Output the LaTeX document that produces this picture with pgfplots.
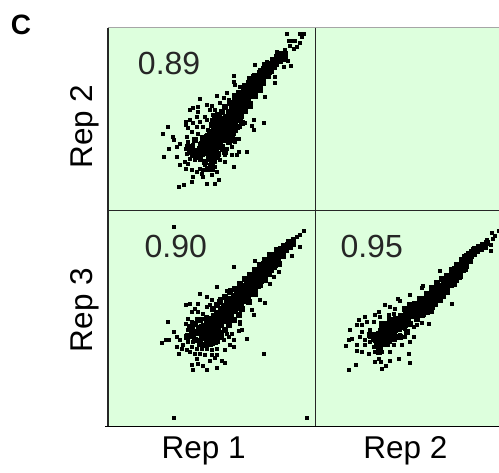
\documentclass[border=0pt]{standalone}
\usepackage{pgfplots}
\pgfplotsset{compat=1.18}
\usepackage{fontspec}
\setmainfont{Liberation Sans}
\definecolor{panelgreen}{RGB}{221,255,221}
\pgfplotsset{panel/.style={
  scale only axis, y dir=reverse, xtick=\empty, ytick=\empty,
  axis background/.style={fill=panelgreen},
  axis line style={draw=none},
  label style={font=\fontsize{31.5}{31.5}\selectfont},
  clip=true},
  dot/.style={only marks, mark=square*, mark size=1.5pt, black, mark options={draw=none,fill=black}},
  mid/.style={only marks, mark=square*, mark size=2.5pt, black, mark options={draw=none,fill=black}},
  core/.style={only marks, mark=square*, mark size=3.6pt, black, mark options={draw=none,fill=black}}
}
\tikzset{val/.style={font=\fontsize{32}{32}\selectfont, text=black!85}}
\begin{document}
\begin{tikzpicture}[x=1pt,y=1pt]
\path[use as bounding box] (0,0) rectangle (499,-473);
\node[font=\bfseries\fontsize{28}{28}\selectfont, anchor=center] at (21,-25) {C};
% top-right empty
\begin{axis}[panel, at={(315.7pt,-28pt)}, anchor=north west, width=183.3pt, height=182.7pt, xmin=0,xmax=1,ymin=0,ymax=1]
\addplot[draw=none] coordinates {(0,0)};
\end{axis}
% Rep 1 vs Rep 2
\begin{axis}[panel, at={(108pt,-28pt)}, anchor=north west, width=207.7pt, height=182.7pt,
  xmin=25,xmax=647,ymin=25,ymax=572,
  ylabel={Rep 2}, ylabel style={at={(axis description cs:-0.112,0.46)},anchor=center}]
\addplot[core] coordinates {
(552,105)(545,112)(535,120)(525,130)(515,135)(505,145)(495,150)(510,150)(490,165)(480,170)(500,165)(475,185)(465,180)(455,190)(485,185)(450,205)(465,205)(440,215)(475,205)(430,225)(450,225)(420,235)(440,240)(460,225)(410,250)(425,250)(445,255)(400,265)(415,265)(430,270)(390,280)(405,280)(420,285)(380,295)(395,295)(410,295)(370,305)(385,310)(400,310)(360,320)(375,325)(390,325)(350,330)(365,340)(380,340)(345,345)(360,355)(375,355)(340,360)(355,370)(330,375)(335,390)(345,385)(325,395)(365,300)(350,315)(335,350)(320,365)(315,390)(310,375)
};
\addplot[mid] coordinates {
(345,295)(355,285)(365,275)(375,260)(390,250)(405,235)(415,220)(430,205)(445,190)(460,170)(480,160)(495,135)(530,112)(540,105)(420,300)(425,310)(410,320)(405,330)(395,345)(390,355)(335,315)(330,335)(320,350)(310,365)(325,365)(300,385)(315,380)(295,395)(345,410)(330,415)(315,425)(335,430)(325,445)(335,445)(365,380)(375,395)(385,365)(400,360)(285,360)(275,390)(265,380)(270,395)(285,405)(300,410)(355,400)(345,320)(355,305)(470,195)(460,215)(440,230)(415,250)(470,170)(485,175)(505,155)(520,140)
};
\addplot[dot] coordinates {
(560,43)(600,43)(610,43)(605,52)(565,62)(575,62)(585,62)(600,70)(590,80)(580,88)(570,78)(555,90)(545,100)(535,100)(530,95)(572,138)(563,122)(465,135)(400,167)(402,185)(405,195)(380,218)(350,228)(300,237)(370,235)(360,250)(335,258)(320,255)(295,262)(280,265)(270,270)(295,275)(290,290)(330,270)(340,285)(315,290)(258,305)(258,315)(203,322)(188,342)(220,350)(222,360)(240,370)(232,380)(207,385)(192,410)(232,410)(240,435)(255,425)(265,430)(258,445)(275,450)(290,455)(305,460)(280,470)(310,470)(335,465)(358,480)(345,490)(320,490)(275,485)(252,494)(237,500)(490,310)(460,300)(455,318)(462,328)(440,395)(415,395)(400,440)(495,230)(525,190)(525,170)
(270,300)(280,310)(265,325)(290,320)(300,305)(320,300)(335,300)(310,320)(275,335)(295,340)(260,350)(285,355)(305,350)(320,345)(335,340)(265,365)(280,375)(300,370)(315,365)(330,365)(258,385)(270,390)(290,390)(305,385)(320,385)(350,395)(365,390)(380,385)(395,380)(405,365)(415,355)(260,400)(275,405)(290,405)(310,405)(325,410)(340,405)(355,410)(375,405)(395,405)(410,405)(270,415)(285,420)(300,420)(315,425)(330,420)(345,425)(360,420)(375,425)(315,435)(330,435)(345,440)(325,450)(340,450)(310,450)(300,445)(350,455)(395,350)(435,310)(420,320)(400,340)(350,305)(340,320)(325,330)(360,290)(345,270)(375,265)(385,240)(400,225)(420,200)(430,195)(445,175)(460,165)(480,150)(500,125)(515,118)(540,118)(555,120)(550,140)
};
\node[val] at (axis cs:208,130) {0.89};
\end{axis}
% Rep 1 vs Rep 3
\begin{axis}[panel, at={(108pt,-210.7pt)}, anchor=north west, width=207.7pt, height=216pt,
  xmin=25,xmax=647,ymin=17,ymax=665,
  ylabel={Rep 3}, ylabel style={at={(axis description cs:-0.112,0.54)},anchor=center},
  xlabel={Rep 1}, xlabel style={at={(axis description cs:0.46,-0.112)},anchor=center}]
\addplot[core] coordinates {
(575,112)(565,122)(555,130)(545,135)(535,145)(545,150)(525,152)(515,160)(530,165)(505,170)(520,175)(495,180)(510,190)(485,192)(500,200)(475,205)(490,215)(465,215)(480,225)(455,225)(470,240)(445,235)(460,250)(435,245)(450,262)(425,255)(440,275)(415,265)(430,285)(405,275)(420,295)(395,285)(410,305)(385,295)(400,315)(375,305)(390,325)(365,315)(380,335)(355,325)(370,345)(345,335)(360,355)(335,345)(350,365)(325,355)(340,375)(330,385)(320,375)(310,395)(325,400)(345,395)(360,385)
};
\addplot[mid] coordinates {
(340,310)(350,300)(360,290)(375,275)(390,260)(405,250)(420,235)(435,222)(450,210)(465,195)(480,180)(495,165)(510,150)(530,135)(550,122)(565,110)(535,175)(520,185)(505,205)(495,225)(480,240)(465,265)(445,290)(425,310)(415,330)(400,345)(385,360)(375,375)(360,395)(345,410)(330,415)(315,420)(300,415)(285,405)(280,390)(295,380)(305,365)(320,340)(300,345)(285,355)(270,365)(275,380)(260,395)(330,345)(310,385)(340,385)(355,375)(365,340)(385,340)(405,310)(420,290)
};
\addplot[dot] coordinates {
(222,65)(610,78)(600,88)(590,95)(578,100)(600,125)(575,152)(535,200)(520,215)(510,235)(465,167)(400,186)(350,245)(300,265)(320,275)(380,258)(390,255)(335,285)(360,280)(258,300)(270,295)(295,295)(285,310)(275,320)(295,320)(320,305)(330,298)(310,325)(480,285)(495,292)(455,315)(460,330)(203,350)(222,380)(232,395)(187,412)(197,405)(208,405)(240,405)(232,425)(238,445)(260,435)(270,440)(285,445)(290,460)(275,478)(278,493)(310,483)(322,495)(350,488)(330,468)(345,458)(365,468)(375,473)(295,475)(490,445)(440,400)(420,350)(425,375)(415,378)(222,638)(620,638)
(265,340)(258,355)(275,350)(290,340)(305,340)(320,335)(265,375)(280,370)(295,365)(310,360)(260,390)(275,395)(290,385)(305,380)(320,395)(265,410)(280,410)(295,405)(310,415)(325,415)(340,415)(355,410)(370,405)(385,395)(400,405)(400,425)(390,420)(375,435)(350,430)(335,435)(320,430)(305,430)(290,430)(275,425)(250,420)(245,430)(300,445)(315,450)(335,450)(350,450)(380,385)(395,385)(420,355)
};
\node[val] at (axis cs:228,125) {0.90};
\end{axis}
% Rep 2 vs Rep 3
\begin{axis}[panel, at={(315.7pt,-210.7pt)}, anchor=north west, width=183.3pt, height=216pt,
  xmin=17,xmax=567,ymin=17,ymax=665,
  xlabel={Rep 2}, xlabel style={at={(axis description cs:0.49,-0.112)},anchor=center}]
\addplot[core] coordinates {
(520,122)(510,128)(498,135)(488,142)(478,150)(468,158)(475,165)(458,168)(465,180)(448,182)(455,192)(438,195)(445,208)(428,208)(435,220)(418,222)(405,232)(420,235)(395,245)(408,250)(382,245)(385,260)(395,268)(370,262)(375,278)(358,275)(362,290)(345,285)(350,300)(332,295)(335,310)(318,305)(320,322)(305,315)(305,330)(290,325)(290,340)(275,335)(275,350)(260,345)(260,365)(245,360)(245,378)(230,375)(230,395)(215,390)(215,408)(205,420)(200,400)
};
\addplot[mid] coordinates {
(285,310)(300,300)(315,295)(330,280)(350,265)(365,248)(380,232)(395,222)(410,212)(425,195)(440,180)(455,165)(470,152)(490,135)(505,125)(530,112)(480,165)(465,190)(445,215)(430,235)(410,260)(390,285)(375,295)(365,305)(350,320)(335,330)(320,340)(300,355)(285,360)(270,365)(255,350)(240,345)(225,355)(215,370)(205,385)(190,400)(200,415)(210,430)(230,415)(250,400)(270,395)(290,380)(255,375)(240,385)(215,355)(205,440)(180,390)
};
\addplot[dot] coordinates {
(545,82)(565,78)(555,92)(548,100)(530,105)(543,118)(543,137)(390,197)(338,243)(335,248)(425,296)(365,320)(355,355)(335,352)(300,270)(262,282)(270,287)(225,298)(240,305)(255,310)(250,325)(235,330)(205,320)(195,330)(210,335)(165,335)(145,345)(170,350)(190,350)(155,360)(140,360)(180,375)(155,380)(118,375)(125,400)(115,405)(108,422)(140,420)(150,395)(165,405)(180,395)(165,420)(155,440)(140,438)(175,445)(190,425)(195,440)(195,470)(205,460)(215,490)(228,483)(240,468)(213,470)(138,478)(117,493)(265,460)(295,445)(300,473)(310,395)(300,410)(285,395)(275,420)(250,420)(240,440)(215,440)(270,390)(255,400)(240,410)(225,420)(240,395)(255,385)(225,370)(210,375)(195,385)(180,410)(310,365)(320,360)(340,330)(285,370)(270,375)
};
\node[val] at (axis cs:185,125) {0.95};
\end{axis}
% frame lines
\draw[gray!70, line width=1pt] (108,-28) -- (499,-28);
\draw[black!85, line width=1.1pt] (108,-28) -- (108,-426.7);
\draw[black!85, line width=1.1pt] (315.7,-28) -- (315.7,-426.7);
\draw[black!85, line width=1.1pt] (108,-210.7) -- (499,-210.7);
\draw[black, line width=1.4pt] (105,-426.7) -- (499,-426.7);
\end{tikzpicture}
\end{document}
